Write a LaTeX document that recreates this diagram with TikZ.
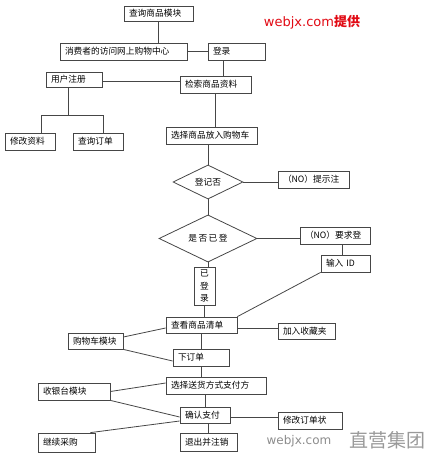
\documentclass[tikz,border=0pt]{standalone}
\usepackage{fontspec}
\newfontfamily\cjk{Noto Sans CJK SC}
\newfontfamily\dejavu{DejaVu Sans}
\usepackage{tikz}
\usetikzlibrary{shapes}
\usetikzlibrary{arrows}
\tikzset{node distance=2cm, auto}
\definecolor{linegray}{RGB}{70,70,70}
\definecolor{webred}{RGB}{225,10,20}
\tikzset{box/.style={draw=linegray, line width=0.8pt, inner xsep=5pt, inner ysep=0pt, align=left},
  dia/.style={draw=linegray, line width=0.8pt, diamond, inner sep=0pt, align=center},
  link/.style={draw=linegray, line width=0.8pt}}

\begin{document}
\begin{tikzpicture}[x=1pt,y=-1pt,font=\cjk\fontsize{8.7}{10}\selectfont]
\useasboundingbox (0,0) rectangle (437,457);
\node[box, text width=59pt, minimum height=15pt] (mk) at (158.5,13.5) {查询商品模块};
\node[box, text width=117pt, minimum height=17pt] (zx) at (123.5,51.5) {消费者的访问网上购物中心};
\node[box, text width=47pt, minimum height=17pt] (dl) at (236.5,51.5) {登录};
\node[box, text width=46pt, minimum height=15pt] (zc) at (74,79.5) {用户注册};
\node[box, text width=61pt, minimum height=17pt] (js) at (215.5,84.5) {检索商品资料};
\node[box, text width=40pt, minimum height=17pt] (xg) at (30,141.5) {修改资料};
\node[box, text width=40pt, minimum height=17pt] (cd) at (98,141.5) {查询订单};
\node[box, text width=81pt, minimum height=17pt] (fr) at (211.5,135.5) {选择商品放入购物车};
\node[dia, minimum width=70pt, minimum height=34pt] (d1) at (208,182) {登记否};
\node[box, text width=61pt, minimum height=17pt] (ts) at (313.5,179.5) {（NO）提示注};
\node[dia, minimum width=98pt, minimum height=35pt] (d2) at (208,238.5) {是\,否\,已\,登};
\node[box, text width=60pt, minimum height=17pt] (yq) at (335,235.5) {（NO）要求登};
\node[box, text width=39pt, minimum height=17pt] (sr) at (345.5,263.5) {输入 ID};
\node[box, align=center, inner xsep=0pt, text width=21pt, minimum height=38pt, font=\cjk\fontsize{8.7}{12.5}\selectfont] (yd) at (204.5,286) {已\\登\\录};
\node[box, text width=61pt, minimum height=16pt] (ck) at (201.5,325) {查看商品清单};
\node[box, text width=47pt, minimum height=16pt] (sc) at (306.5,331) {加入收藏夹};
\node[box, text width=45pt, minimum height=16pt] (gw) at (95.5,341) {购物车模块};
\node[box, text width=46pt, minimum height=17pt] (xd) at (201,357.5) {下订单};
\node[box, text width=90pt, minimum height=17pt] (zf) at (216,385.5) {选择送货方式支付方};
\node[box, text width=62pt, minimum height=17pt] (sy) at (74,391.5) {收银台模块};
\node[box, text width=40pt, minimum height=16pt] (qr) at (205,415) {确认支付};
\node[box, text width=54pt, minimum height=17pt] (xz) at (310,420.5) {修改订单状};
\node[box, text width=47pt, minimum height=19pt] (jx) at (66.5,442.5) {继续采购};
\node[box, text width=47pt, minimum height=18pt] (tc) at (208.5,442) {退出并注销};
\node[text=webred, font=\dejavu\fontsize{13}{13}\selectfont] (wz) at (312,22) {webjx.com{\cjk\bfseries 提供}};
\node[text=black!45, font=\dejavu\fontsize{12}{12}\selectfont] (wm) at (299,441) {webjx.com};
\node[text=black!40, font=\cjk\fontsize{19}{19}\selectfont] (jt) at (387,440) {直营集团};
\draw[link] (mk) -- (mk |- zx.north);
\draw[link] (zx.east) -- (dl.west);
\draw[link] ([xshift=-13.5pt]dl.south) -- ([xshift=-13.5pt]dl.south |- js.north);
\draw[link] ([yshift=-2pt]zc.east) -- ([yshift=-2pt]zc.east -| js.west);
\draw[link] ([xshift=-6pt]zc.south) -- ++(0,28) coordinate (zb);
\draw[link] ([xshift=11pt]xg.north) |- (zb) -| ([xshift=5pt]cd.north);
\draw[link] (js.south) -- (js.south |- fr.north);
\draw[link] (d1.north |- fr.south) -- (d1.north);
\draw[link] (d1.east) -- (d1.east -| ts.west);
\draw[link] (d1.south) -- (d2.north);
\draw[link] (d2.east) -- (d2.east -| yq.west);
\draw[link] ([xshift=-3pt]sr.north |- yq.south) -- ([xshift=-3pt]sr.north);
\draw[link] (sr.south west) -- (ck.north east);
\draw[link] (d2.south) -- (d2.south |- yd.north);
\draw[link] (yd.south) -- (yd.south |- ck.north);
\draw[link] ([yshift=-3pt]ck.east) -- ([yshift=-3pt]ck.east -| sc.west);
\draw[link] ([yshift=-3pt]ck.west) -- ([yshift=4pt]gw.east);
\draw[link] (gw.south east) -- ([yshift=-3.5pt]xd.west);
\draw[link] (ck.south) -- (ck.south |- xd.north);
\draw[link] (xd.south) -- (xd.south |- zf.north);
\draw[link] (sy.east) -- ([yshift=2.5pt]zf.west);
\draw[link] (sy.south east) -- ([yshift=-2pt]qr.west);
\draw[link] (qr.north |- zf.south) -- (qr.north);
\draw[link] ([yshift=-2pt]qr.east) -- ([yshift=-2pt]qr.east -| xz.west);
\draw[link] ([xshift=-5pt]jx.north east) -- ([yshift=-6pt]qr.west);
\draw[link] (tc.north |- qr.south) -- (tc.north);
\end{tikzpicture}
\end{document}
